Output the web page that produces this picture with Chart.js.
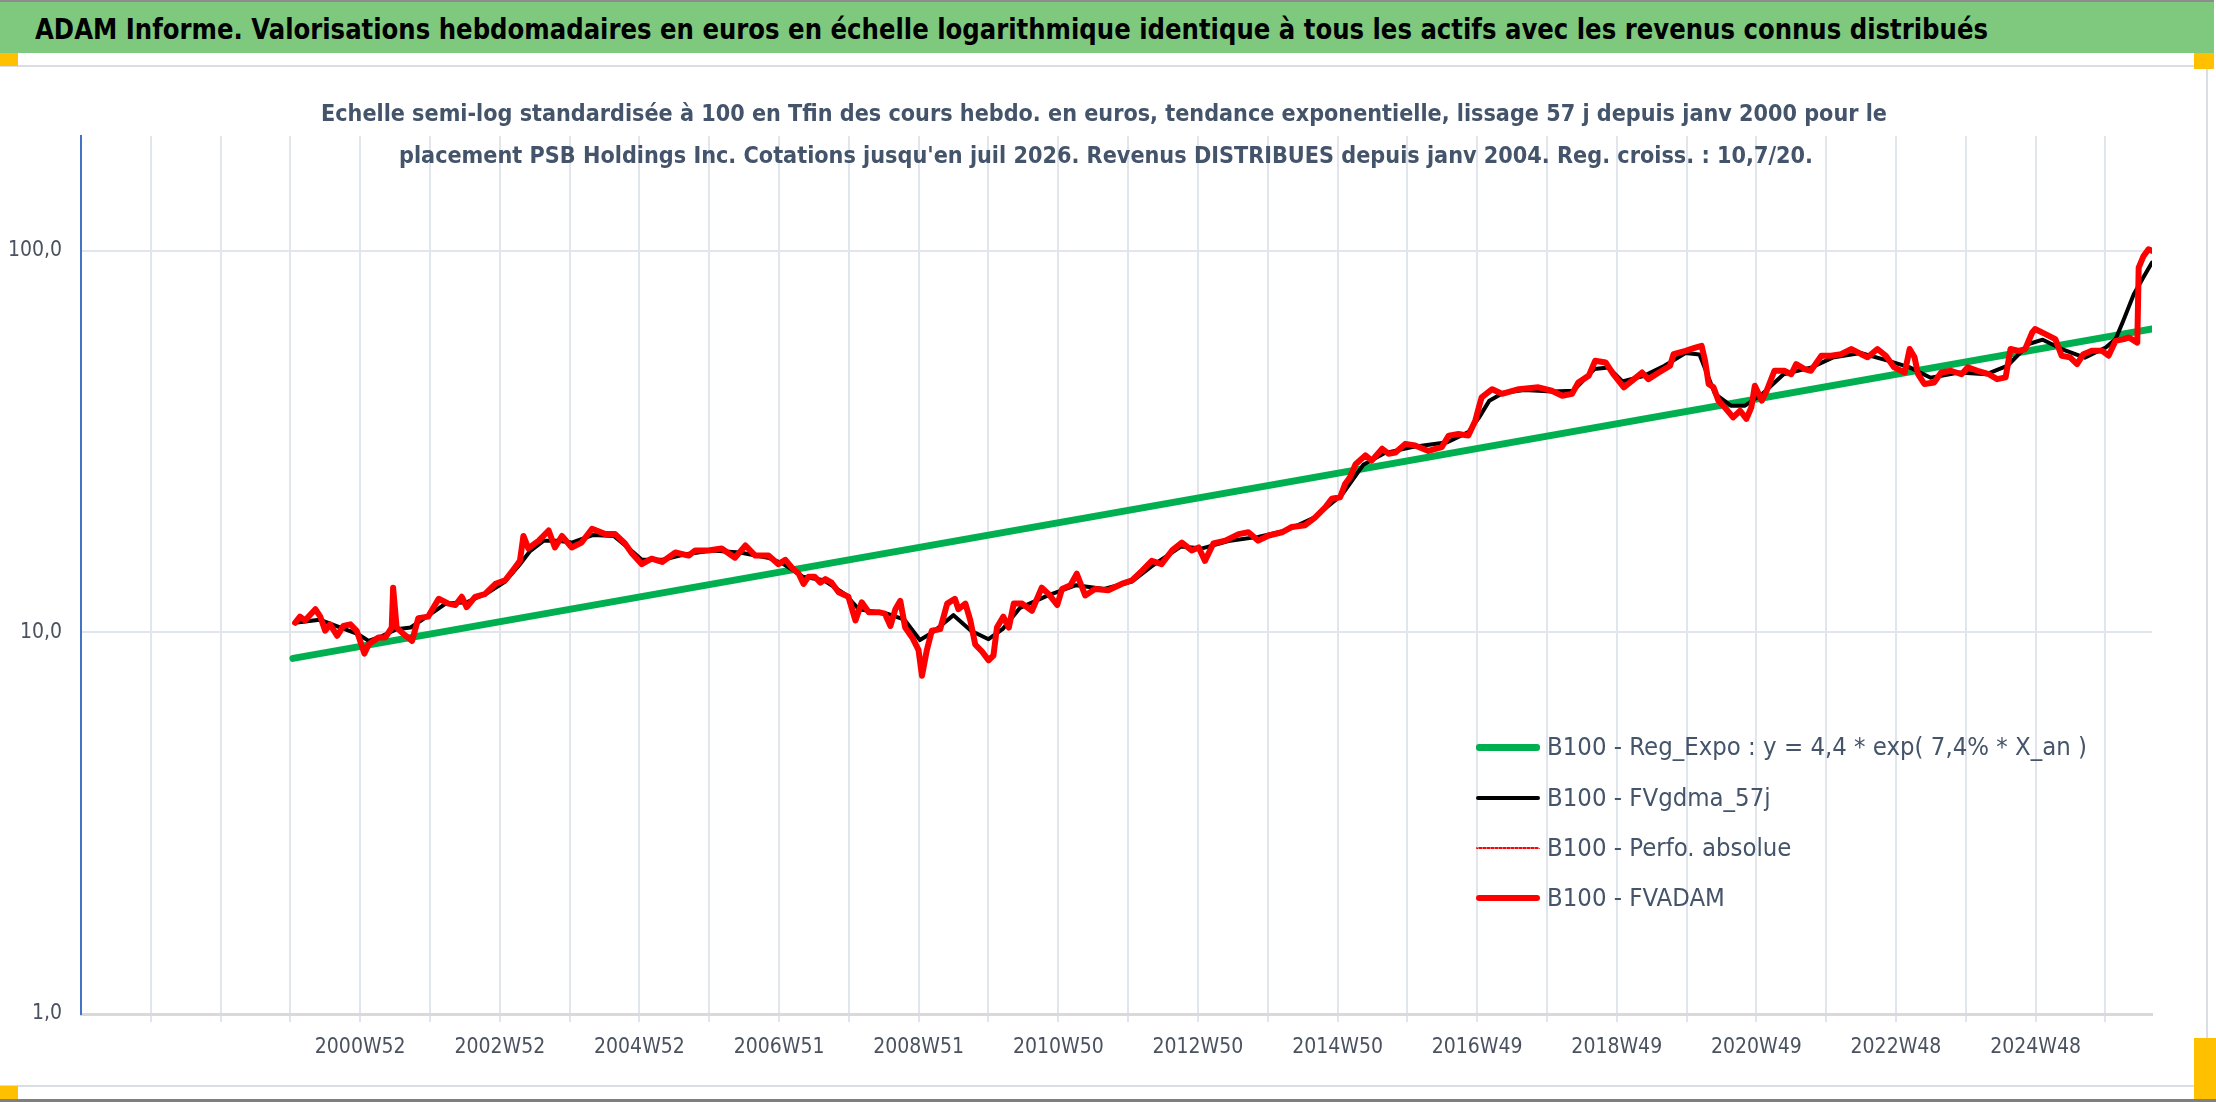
<!DOCTYPE html>
<html lang="fr">
<head>
<meta charset="utf-8">
<title>ADAM Informe - PSB Holdings Inc.</title>
<script src="https://cdn.jsdelivr.net/npm/chart.js@4.4.1/dist/chart.umd.min.js"></script>
<style>
  html, body { margin: 0; padding: 0; background: #fff; }
  body { width: 2216px; height: 1102px; position: relative; overflow: hidden;
         font-family: 'DejaVu Sans Condensed', 'DejaVu Sans', sans-serif; }
  .banner { position: absolute; left: 0; top: 0; width: 2214px; height: 53px; background: #7FC97F;
            border-top: 2px solid #8c8c8c; box-sizing: border-box; }
  .txt { position: absolute; white-space: nowrap; width: max-content; transform-origin: 0 50%; line-height: 1; }
  #title { font-weight: bold; font-size: 28px; color: #000; }
  .sub { font-weight: bold; font-size: 23px; color: #44546A; }
  .frame-top { position: absolute; left: 0; top: 65px; width: 2207px; height: 2px; background: #DADDE2; }
  .frame-bottom { position: absolute; left: 0; top: 1085px; width: 2207px; height: 2px; background: #DADDE2; }
  .frame-right { position: absolute; left: 2206px; top: 66px; width: 2px; height: 1020px; background: #DADDE2; }
  .base { position: absolute; left: 0; top: 1099px; width: 2216px; height: 3px; background: #7f7f7f; }
  .handle { position: absolute; background: #FFC000; }
  #chartBox { position: absolute; left: 0; top: 67px; width: 2205px; height: 1018px; }
  .leg-row { position: absolute; left: 1476px; height: 30px; }
  .leg-line { position: absolute; left: 0; width: 64px; top: 15px; }
  .leg-text { position: absolute; left: 71px; top: 2px; font-size: 25px; color: #44546A; white-space: nowrap;
              width: max-content; transform-origin: 0 50%; line-height: 1; }
</style>
</head>
<body>
<div class="banner"></div>
<span id="title" class="txt">ADAM Informe. Valorisations hebdomadaires en euros en échelle logarithmique identique à tous les actifs avec les revenus connus distribués</span>
<div class="frame-top"></div>
<div class="frame-bottom"></div>
<div class="frame-right"></div>
<div class="base"></div>
<div id="chartBox"><canvas id="chart"></canvas></div>
<div class="handle" style="left:0;top:53px;width:18px;height:13px"></div>
<div class="handle" style="left:2194px;top:53px;width:20px;height:16px"></div>
<div class="handle" style="left:0;top:1086px;width:18px;height:13px"></div>
<div class="handle" style="left:2194px;top:1038px;width:22px;height:61px"></div>
<span id="sub1" class="txt sub">Echelle semi-log standardisée à 100 en Tfin des cours hebdo. en euros, tendance exponentielle, lissage 57 j depuis janv 2000 pour le</span>
<span id="sub2" class="txt sub">placement PSB Holdings Inc. Cotations jusqu'en juil 2026. Revenus DISTRIBUES depuis janv 2004. Reg. croiss. : 10,7/20.</span>
<div id="legend"></div>
<script>
// axe des X : une graduation toutes les 52 semaines, libellé une fois sur deux
const xTickLabels = ['', '', '', '', '2000W52', '', '2002W52', '', '2004W52', '', '2006W51', '', '2008W51', '',
  '2010W50', '', '2012W50', '', '2014W50', '', '2016W49', '', '2018W49', '', '2020W49', '', '2022W48', '',
  '2024W48', ''];
const yTickValues = [1, 10, 100];

// B100 - FVADAM (années décimales)
const fvadamYears = [
  2000.05, 2000.12, 2000.19, 2000.34, 2000.41, 2000.48, 2000.55, 2000.65, 2000.74, 2000.84,
  2000.93, 2000.98, 2001.04, 2001.10, 2001.24, 2001.34, 2001.43, 2001.45, 2001.50, 2001.60,
  2001.72, 2001.81, 2001.95, 2002.10, 2002.24, 2002.34, 2002.43, 2002.50, 2002.62, 2002.76,
  2002.91, 2003.05, 2003.19, 2003.26, 2003.31, 2003.38, 2003.53, 2003.67, 2003.76, 2003.86,
  2004.00, 2004.14, 2004.29, 2004.48, 2004.62, 2004.76, 2004.86, 2005.00, 2005.14, 2005.29,
  2005.48, 2005.67, 2005.76, 2005.95, 2006.14, 2006.33, 2006.48, 2006.62, 2006.81, 2006.95,
  2007.05, 2007.14, 2007.24, 2007.31, 2007.38, 2007.47, 2007.55, 2007.62, 2007.71, 2007.81,
  2007.95, 2008.05, 2008.14, 2008.24, 2008.38, 2008.47, 2008.55, 2008.62, 2008.69, 2008.76,
  2008.86, 2008.95, 2009.00, 2009.07, 2009.14, 2009.26, 2009.36, 2009.47, 2009.52, 2009.62,
  2009.69, 2009.76, 2009.86, 2009.95, 2010.02, 2010.07, 2010.16, 2010.24, 2010.31, 2010.43,
  2010.57, 2010.71, 2010.81, 2010.93, 2011.00, 2011.12, 2011.21, 2011.33, 2011.47, 2011.66,
  2011.85, 2012.00, 2012.14, 2012.28, 2012.42, 2012.57, 2012.71, 2012.85, 2012.95, 2013.04,
  2013.16, 2013.33, 2013.52, 2013.66, 2013.80, 2013.95, 2014.14, 2014.28, 2014.47, 2014.61,
  2014.76, 2014.85, 2014.97, 2015.04, 2015.11, 2015.19, 2015.33, 2015.42, 2015.57, 2015.66,
  2015.76, 2015.90, 2016.04, 2016.23, 2016.42, 2016.52, 2016.66, 2016.80, 2016.90, 2016.95,
  2016.99, 2017.14, 2017.28, 2017.52, 2017.80, 2017.99, 2018.14, 2018.28, 2018.37, 2018.52,
  2018.61, 2018.76, 2018.87, 2019.02, 2019.14, 2019.28, 2019.37, 2019.52, 2019.68, 2019.73,
  2019.90, 2020.04, 2020.13, 2020.18, 2020.23, 2020.30, 2020.37, 2020.46, 2020.58, 2020.68,
  2020.77, 2020.84, 2020.89, 2020.99, 2021.05, 2021.17, 2021.31, 2021.41, 2021.48, 2021.60,
  2021.69, 2021.84, 2021.98, 2022.12, 2022.27, 2022.41, 2022.50, 2022.64, 2022.76, 2022.88,
  2023.03, 2023.10, 2023.17, 2023.22, 2023.31, 2023.45, 2023.55, 2023.69, 2023.84, 2023.93,
  2024.07, 2024.23, 2024.35, 2024.47, 2024.54, 2024.66, 2024.75, 2024.85, 2024.89, 2025.04,
  2025.18, 2025.27, 2025.39, 2025.49, 2025.58, 2025.70, 2025.85, 2025.94, 2026.04, 2026.16,
  2026.23, 2026.35, 2026.37, 2026.44, 2026.51, 2026.56
];
const fvadamValues = [
  10.6, 11.0, 10.75, 11.5, 11.0, 10.1, 10.5, 9.8, 10.4, 10.5,
  10.1, 9.5, 8.8, 9.3, 9.7, 9.7, 10.3, 13.1, 10.3, 9.9,
  9.5, 10.9, 11.0, 12.25, 11.9, 11.8, 12.4, 11.65, 12.4, 12.6,
  13.4, 13.7, 14.8, 15.4, 17.9, 16.6, 17.4, 18.5, 16.7, 17.9,
  16.7, 17.2, 18.7, 18.1, 18.1, 17.1, 16.1, 15.1, 15.6, 15.3,
  16.2, 15.9, 16.4, 16.4, 16.6, 15.7, 16.9, 15.9, 15.9, 15.1,
  15.5, 14.8, 14.25, 13.4, 14.0, 14.0, 13.5, 13.8, 13.5, 12.75,
  12.4, 10.75, 12.0, 11.3, 11.3, 11.2, 10.4, 11.5, 12.1, 10.3,
  9.7, 9.0, 7.7, 9.0, 10.1, 10.2, 11.9, 12.25, 11.5, 11.9,
  10.75, 9.3, 8.9, 8.45, 8.7, 10.3, 11.0, 10.3, 11.9, 11.9,
  11.4, 13.1, 12.6, 11.8, 13.0, 13.3, 14.25, 12.5, 13.0, 12.9,
  13.4, 13.7, 14.5, 15.4, 15.1, 16.4, 17.2, 16.4, 16.7, 15.4,
  17.1, 17.4, 18.1, 18.3, 17.4, 17.95, 18.3, 18.9, 19.1, 20.0,
  21.3, 22.4, 22.6, 24.5, 25.5, 27.6, 29.1, 28.2, 30.3, 29.4,
  29.6, 31.2, 30.9, 29.9, 30.6, 32.8, 33.1, 32.8, 35.9, 38.9,
  41.3, 43.4, 42.2, 43.4, 43.9, 43.0, 41.7, 42.2, 45.2, 47.1,
  51.5, 51.0, 47.5, 43.9, 45.7, 48.0, 46.1, 48.0, 50.0, 53.6,
  54.7, 55.8, 56.4, 51.5, 44.8, 43.9, 40.5, 38.9, 36.6, 38.1,
  36.3, 38.9, 44.3, 40.5, 42.6, 48.5, 48.5, 47.5, 50.5, 49.0,
  48.5, 53.1, 53.1, 53.6, 55.3, 53.6, 52.6, 55.3, 53.1, 49.5,
  48.0, 55.3, 52.6, 47.5, 44.8, 45.2, 48.0, 48.5, 47.5, 49.5,
  48.5, 47.5, 46.1, 46.6, 55.3, 54.7, 55.3, 61.1, 62.4, 60.5,
  58.7, 53.1, 52.6, 50.5, 53.6, 54.7, 54.7, 53.1, 58.1, 58.7,
  59.3, 57.5, 90.4, 97.0, 101.0, 100.0
];

// B100 - FVgdma_57j (courbe lissée)
const gdmaYears = [
  2000.05, 2000.40, 2000.70, 2000.95, 2001.10, 2001.30, 2001.50, 2001.70, 2001.90, 2002.20,
  2002.50, 2002.80, 2003.05, 2003.25, 2003.40, 2003.60, 2003.80, 2004.00, 2004.30, 2004.60,
  2004.85, 2005.00, 2005.30, 2005.60, 2006.00, 2006.40, 2006.80, 2007.00, 2007.30, 2007.60,
  2007.90, 2008.10, 2008.50, 2008.75, 2008.97, 2009.15, 2009.45, 2009.70, 2009.95, 2010.15,
  2010.40, 2010.80, 2011.20, 2011.60, 2012.00, 2012.30, 2012.70, 2013.00, 2013.40, 2013.80,
  2014.20, 2014.60, 2015.00, 2015.30, 2015.60, 2016.00, 2016.50, 2016.80, 2016.95, 2017.10,
  2017.30, 2017.60, 2018.00, 2018.30, 2018.60, 2018.80, 2019.00, 2019.30, 2019.60, 2019.90,
  2020.10, 2020.32, 2020.55, 2020.75, 2021.00, 2021.30, 2021.70, 2022.00, 2022.40, 2022.80,
  2023.10, 2023.40, 2023.80, 2024.20, 2024.50, 2024.80, 2025.00, 2025.30, 2025.60, 2025.90,
  2026.04, 2026.15, 2026.30, 2026.45, 2026.56
];
const gdmaValues = [
  10.6, 10.8, 10.3, 9.9, 9.5, 9.8, 10.2, 10.3, 10.9, 11.9,
  12.0, 12.7, 13.6, 15.0, 16.3, 17.4, 17.4, 17.2, 18.0, 17.9,
  16.4, 15.5, 15.5, 16.0, 16.4, 16.2, 15.7, 15.2, 14.0, 13.7,
  12.6, 11.5, 11.2, 10.8, 9.55, 10.0, 11.1, 10.1, 9.6, 10.2,
  11.6, 12.5, 13.3, 13.0, 13.6, 15.0, 16.8, 16.6, 17.4, 17.8,
  18.5, 20.0, 23.0, 27.5, 29.5, 30.6, 31.5, 33.5, 36.5, 40.5,
  42.5, 43.2, 42.8, 43.0, 49.0, 49.5, 45.5, 47.0, 50.0, 54.0,
  53.5, 42.2, 39.3, 39.3, 42.2, 47.5, 49.5, 52.5, 54.0, 51.5,
  49.5, 46.5, 48.0, 47.5, 50.0, 57.0, 58.5, 55.0, 52.5, 55.8,
  58.7, 65.6, 77.0, 86.0, 93.2
];

// B100 - Reg_Expo : droite en semi-log, extrémités
const regYears = [2000.02, 2026.56];
const regValues = [8.55, 62.4];

const X_MIN = 1996.994;      // origine de l'axe (4 graduations avant 2000W52)
const X_STEP = 364 / 365.25; // 52 semaines
const X_MAX = 2026.56;
const FONT = "'DejaVu Sans Condensed', 'DejaVu Sans', sans-serif";

const toPoints = (xs, ys) => xs.map((x, i) => ({ x: x, y: ys[i] }));

const chart = new Chart(document.getElementById('chart'), {
  type: 'line',
  data: {
    datasets: [
      { label: 'B100 - Reg_Expo : y = 4,4 * exp( 7,4% *  X_an )', data: toPoints(regYears, regValues),
        borderColor: '#00B050', borderWidth: 7, order: 4, legendLine: 'solid' },
      { label: 'B100 - FVgdma_57j', data: toPoints(gdmaYears, gdmaValues),
        borderColor: '#000000', borderWidth: 4, order: 3, legendLine: 'solid' },
      { label: 'B100 - Perfo. absolue', data: toPoints(fvadamYears, fvadamValues),
        borderColor: '#FF0000', borderWidth: 2, borderDash: [2, 2], order: 2, legendLine: 'dotted' },
      { label: 'B100 - FVADAM', data: toPoints(fvadamYears, fvadamValues),
        borderColor: '#FF0000', borderWidth: 6, order: 1, legendLine: 'solid' }
    ]
  },
  options: {
    responsive: true,
    maintainAspectRatio: false,
    animation: false,
    layout: { padding: { left: 0, top: 69, right: 53, bottom: 0 } },
    plugins: {
      legend: { display: false },
      title: { display: false },
      tooltip: { enabled: false }
    },
    elements: {
      point: { radius: 0 },
      line: { tension: 0, borderJoinStyle: 'round', borderCapStyle: 'round' }
    },
    scales: {
      x: {
        type: 'linear',
        min: X_MIN,
        max: X_MAX,
        afterBuildTicks: scale => {
          scale.ticks = xTickLabels.map((l, k) => ({ value: X_MIN + k * X_STEP }));
        },
        afterFit: scale => { scale.height = 71; },
        grid: {
          color: ctx => ctx.index === 0 ? 'rgba(0,0,0,0)' : '#E1E5EC',
          lineWidth: 2,
          tickLength: 8
        },
        border: { color: '#D9D9D9', width: 3 },
        ticks: {
          autoSkip: false,
          maxRotation: 0,
          padding: 13,
          color: '#4A5260',
          font: { family: FONT, size: 21 },
          callback: (v, i) => xTickLabels[i]
        }
      },
      y: {
        type: 'logarithmic',
        min: 1,
        max: 200,
        afterBuildTicks: scale => {
          scale.ticks = yTickValues.map(v => ({ value: v }));
        },
        afterFit: scale => { scale.width = 81; },
        grid: { color: '#E1E5EC', lineWidth: 2, drawTicks: false },
        border: { color: '#4472C4', width: 2 },
        ticks: {
          padding: 19,
          color: '#4A5260',
          font: { family: FONT, size: 21 },
          callback: v => Number(v).toFixed(1).replace('.', ',')
        }
      }
    }
  }
});

// légende HTML, dans l'ordre de l'original
const legendRows = [747, 798, 848, 898];
const legendBox = document.getElementById('legend');
chart.data.datasets.forEach((ds, i) => {
  const row = document.createElement('div');
  row.className = 'leg-row';
  row.style.top = (legendRows[i] - 15) + 'px';
  const line = document.createElement('div');
  line.className = 'leg-line';
  const w = ds.legendLine === 'dotted' ? 2 : ds.borderWidth;
  line.style.borderTop = w + 'px ' + ds.legendLine + ' ' + ds.borderColor;
  line.style.marginTop = (-w / 2) + 'px';
  line.style.borderRadius = '3px';
  const txt = document.createElement('span');
  txt.className = 'leg-text';
  txt.textContent = ds.label;
  row.appendChild(line);
  row.appendChild(txt);
  legendBox.appendChild(row);
});

// ajuste la largeur des textes à celle de l'image d'origine
function place(el, left, cy, width) {
  el.style.transform = 'none';
  el.style.left = left + 'px';
  el.style.top = (cy - el.offsetHeight / 2) + 'px';
  const w = el.getBoundingClientRect().width;
  el.style.transform = 'scaleX(' + (width / w) + ')';
}
function layoutText() {
  place(document.getElementById('title'), 35, 30, 1953);
  place(document.getElementById('sub1'), 321, 113, 1566);
  place(document.getElementById('sub2'), 399, 155, 1414);
  const texts = legendBox.querySelectorAll('.leg-text');
  texts.forEach(t => { t.style.transform = 'none'; });
  const k = 540 / texts[0].getBoundingClientRect().width;
  texts.forEach(t => { t.style.transform = 'scaleX(' + k + ')'; });
}
layoutText();
if (document.fonts && document.fonts.ready) document.fonts.ready.then(layoutText);
</script>
</body>
</html>
